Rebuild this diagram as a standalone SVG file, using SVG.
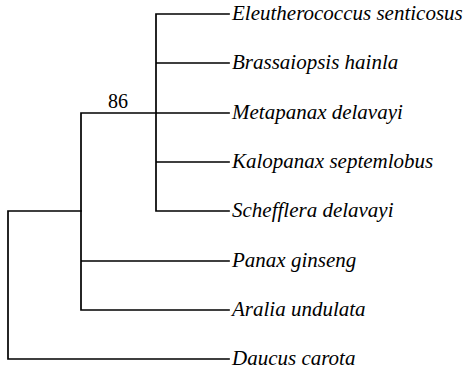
<svg xmlns="http://www.w3.org/2000/svg" width="473" height="374" viewBox="0 0 473 374">
<style>
.br{stroke:#000;stroke-width:1.7;fill:none;stroke-linecap:square}
.lb{font-style:italic;font-size:21px;fill:#000}
.bs{font-size:20px;fill:#000;text-anchor:middle}
</style>
<rect width="473" height="374" fill="#fff"/>
<g id="connectors">
<path class="br" d="M156,14V211M156,14H229M156,63H229M156,113H229M156,162H229M156,211H229"/>
<path class="br" d="M81,113V310M81,113H156M81,261H229M81,310H229"/>
<path class="br" d="M8,211V359M8,211H81M8,359H229"/>
</g>
<g font-family="Liberation Serif, DejaVu Serif, serif">
<g id="bootstrap"><text class="bs" x="118" y="108">86</text></g>
<g id="n1"><text class="lb" x="232" y="20">Eleutherococcus senticosus</text></g>
<g id="n2"><text class="lb" x="232" y="69">Brassaiopsis hainla</text></g>
<g id="n3"><text class="lb" x="232" y="119">Metapanax delavayi</text></g>
<g id="n4"><text class="lb" x="232" y="168">Kalopanax septemlobus</text></g>
<g id="n5"><text class="lb" x="232" y="217">Schefflera delavayi</text></g>
<g id="n6"><text class="lb" x="232" y="267">Panax ginseng</text></g>
<g id="n7"><text class="lb" x="232" y="316">Aralia undulata</text></g>
<g id="n8"><text class="lb" x="232" y="365">Daucus carota</text></g>
</g>
</svg>
